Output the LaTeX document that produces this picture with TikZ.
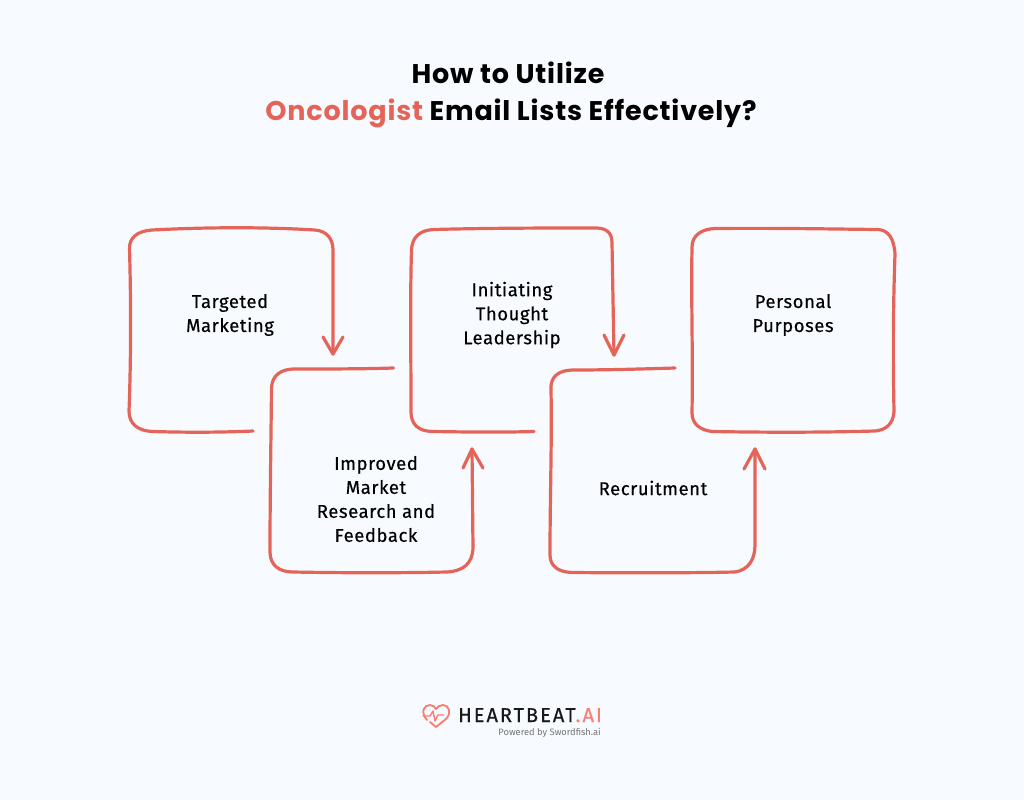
\documentclass[tikz,border=0pt]{standalone}
\usepackage{fontspec}
\setmainfont{Fira Sans}
\newfontfamily\titlefont{Poppins}
\definecolor{bgc}{HTML}{F7FBFF}
\definecolor{red1}{HTML}{E5645A}
\definecolor{logoc}{HTML}{FB7E75}
\tikzset{
 flow/.style={draw=red1,line width=3.2pt,line cap=round,line join=round},
 lab/.style={align=center,font=\fontsize{18.5}{24}\selectfont\addfontfeatures{LetterSpace=3,FakeBold=0.35},text=black,inner sep=0pt},
 ttl/.style={font=\titlefont\bfseries\fontsize{27}{37}\selectfont\addfontfeatures{LetterSpace=3},text=black,inner sep=0pt,anchor=base}
}
\begin{document}
\begin{tikzpicture}[x=1pt,y=-1pt]
\path[use as bounding box,fill=bgc] (0,0) rectangle (1024,800);
\node[ttl] (t1) at (508,83.5) {How to Utilize};
\node[ttl] (t2) at (511,120.5) {\textcolor{red1}{Oncologist} Email Lists Effectively?};
% labels
\node[lab] (a) at (230,315) {Targeted\\Marketing};
\node[lab] (b) at (376,499) {Improved\\Market\\Research and\\Feedback};
\node[lab] (c) at (512,315) {Initiating\\Thought\\Leadership};
\node[lab] (d) at (653,488) {Recruitment};
\node[lab] (e) at (793,315) {Personal\\Purposes};
% box 1
\coordinate (a1) at (253,431);
\coordinate (a2) at (333,354);
\draw[flow] (a1) .. controls (220,432.5) and (185,432.5) .. (153,431.5)
  .. controls (138,431) and (129,424) .. (129,411)
  .. controls (131,360) and (131,300) .. (129.5,249)
  .. controls (129,238) and (137,231) .. (152,230)
  .. controls (210,227) and (265,227) .. (315,230)
  .. controls (327,231) and (333,239) .. (333,250)
  -- (a2);
\draw[flow] (323,337) -- (a2) -- (343,337);
% box 2
\coordinate (b1) at (393.5,368);
\coordinate (b2) at (472,449);
\draw[flow] (b1) .. controls (360,369) and (330,369) .. (293,369)
  .. controls (280,369.5) and (272,376) .. (271.5,388)
  .. controls (271,440) and (270,495) .. (270,552)
  .. controls (270,565) and (279,572) .. (293,572)
  .. controls (345,573) and (400,573) .. (447,572)
  .. controls (464,571) and (472,563) .. (473,549)
  -- (b2);
\draw[flow] (463,468) -- (b2) -- (483,468);
% box 3
\coordinate (c1) at (534,431.5);
\coordinate (c2) at (614,355);
\draw[flow] (c1) .. controls (500,432.5) and (465,432) .. (432,431.5)
  .. controls (418,431) and (411,424) .. (411,412)
  .. controls (411,350) and (410,300) .. (411.5,250)
  .. controls (412,237) and (420,230) .. (434,229.5)
  .. controls (490,228) and (545,228) .. (597,228)
  .. controls (607,228.5) and (612,233) .. (612,243)
  -- (c2);
\draw[flow] (604,335) -- (c2) -- (624,335);
% box 4
\coordinate (d1) at (675,368);
\coordinate (d2) at (755,449);
\draw[flow] (d1) .. controls (640,369) and (610,370) .. (572,370)
  .. controls (558,370.5) and (550,377) .. (551,390)
  .. controls (552,440) and (550,495) .. (550,555)
  .. controls (550,566) and (558,572) .. (572,572.5)
  .. controls (630,573) and (690,573) .. (735,572)
  .. controls (748,570) and (755,560) .. (755,545)
  -- (d2);
\draw[flow] (744,469) -- (d2) -- (765,469);
% box 5
\draw[flow] (715,228.5) .. controls (780,228) and (830,229) .. (878,229.5)
  .. controls (888,230) and (894,238) .. (895,254)
  .. controls (893,310) and (893,360) .. (894,412)
  .. controls (893,424) and (886,430) .. (875,431)
  .. controls (820,432.5) and (770,432.5) .. (712,431.5)
  .. controls (700,430) and (692,424) .. (692,413)
  .. controls (693,350) and (691,300) .. (692,247)
  .. controls (692,235) and (702,229) .. (715,228.5) -- cycle;
% logo
\draw[logoc,line width=1.9pt,line cap=round,line join=round]
  (427,720) .. controls (420,712) and (424,705) .. (430,705)
  .. controls (433,705) and (435,707) .. (436,709)
  .. controls (437,707) and (440,705) .. (443,705)
  .. controls (449,705) and (452,713) .. (446,719)
  -- (436,727) -- (430,722);
\draw[logoc,line width=1.4pt,line cap=round,line join=round]
  (423,716) -- (430,716) -- (433,711) -- (435,721) -- (438,715) -- (444,715);
\node[inner sep=0pt,anchor=base west,font=\fontsize{20}{20}\selectfont\addfontfeatures{LetterSpace=10,FakeBold=0.4}] (l1) at (458,722) {\textcolor{black!90}{HEARTBEAT}\textcolor{logoc}{.AI}};
\node[inner sep=0pt,anchor=base east,font=\fontsize{9.3}{10}\selectfont,text=black!55] (l2) at (601,735) {Powered by Swordfish.ai};
\end{tikzpicture}
\end{document}
